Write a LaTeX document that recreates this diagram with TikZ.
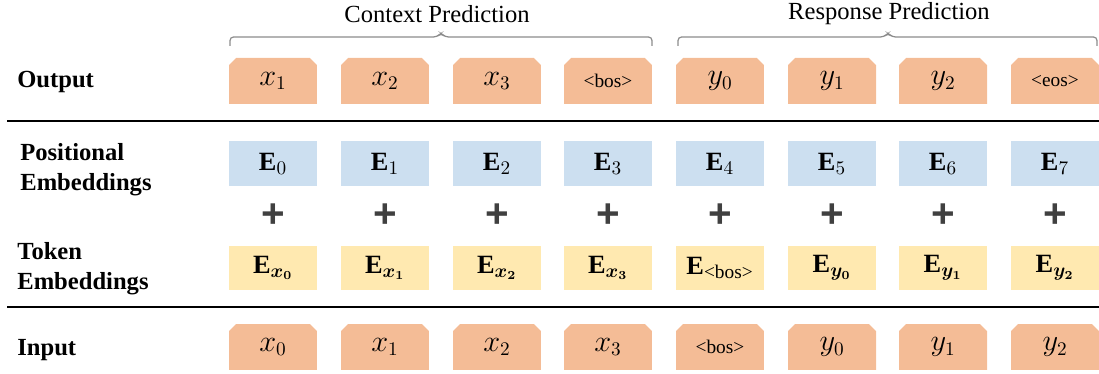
\documentclass[tikz,border=0pt]{standalone}
\usepackage{amsmath,bm}
\usepackage{fontspec}
\setmainfont{Liberation Serif}
\newfontfamily\plusfont{Liberation Sans}

\definecolor{tokorange}{HTML}{F4BC96}
\definecolor{posblue}{HTML}{CCDFF0}
\definecolor{tokyellow}{HTML}{FFE9B0}

\begin{document}
\begin{tikzpicture}[x=0.02cm, y=-0.02cm,
  rowlabel/.style={anchor=west, align=left, inner sep=0pt,
                   font=\fontsize{14}{17}\selectfont\bfseries},
  headlabel/.style={inner sep=0pt, font=\fontsize{14}{17}\selectfont},
  wordbox/.style={rectangle, minimum width=1.76cm, minimum height=0.92cm, inner sep=0pt,
                  font=\fontsize{16}{18}\selectfont,
                  path picture={\fill[tokorange] (path picture bounding box.south west)
                    -- ([yshift=-4pt]path picture bounding box.north west)
                    -- ([xshift=4pt]path picture bounding box.north west)
                    -- ([xshift=-4pt]path picture bounding box.north east)
                    -- ([yshift=-4pt]path picture bounding box.north east)
                    -- (path picture bounding box.south east) -- cycle;}},
  posbox/.style={fill=posblue, minimum width=1.76cm, minimum height=0.9cm, inner sep=0pt,
                 font=\fontsize{15}{17}\selectfont},
  embbox/.style={fill=tokyellow, minimum width=1.76cm, minimum height=0.88cm, inner sep=0pt,
                 font=\fontsize{15}{17}\selectfont},
  plussign/.style={inner sep=0pt, text=black!75, font=\plusfont\fontsize{23}{23}\selectfont\bfseries},
  brace/.style={draw=black!45, line width=0.7pt, rounded corners=2pt},
  rule/.style={line width=1.7pt},
]
  \useasboundingbox (0,0) rectangle (1099,374);

  % Row labels
  \node[rowlabel] (lout) at (17,82) {Output};
  \node[rowlabel] (lpos) at (20,170) {Positional\\Embeddings};
  \node[rowlabel] (ltok) at (17,269) {Token\\Embeddings};
  \node[rowlabel] (lin) at (17,350) {Input};

  % Output row
  \foreach \i/\x/\lab in {1/273/{$x_1$}, 2/385/{$x_2$}, 3/497/{$x_3$},
                          4/608/{\fontsize{11}{12}\selectfont<bos>}, 5/720/{$y_0$},
                          6/832/{$y_1$}, 7/943/{$y_2$}, 8/1055/{\fontsize{11}{12}\selectfont<eos>}}
    \node[wordbox] (out\i) at (\x,81) {\lab};

  % Positional embeddings
  \foreach \i/\x in {1/273, 2/385, 3/497, 4/608, 5/720, 6/832, 7/943, 8/1055} {
    \pgfmathtruncatemacro{\k}{\i-1}
    \node[posbox] (pos\i) at (\x,164) {$\mathbf{E}_{\k}$};
    \node[plussign] (plus\i) at (\x,216) {+};
  }

  % Token embeddings
  \foreach \i/\x/\lab in {1/273/{x_0}, 2/385/{x_1}, 3/497/{x_2}, 4/608/{x_3},
                          5/720/{\text{\fontsize{11}{12}\selectfont<bos>}}, 6/832/{y_0},
                          7/943/{y_1}, 8/1055/{y_2}}
    \node[embbox] (tok\i) at (\x,268) {$\mathbf{E}_{\boldsymbol{\lab}}$};

  % Input row
  \foreach \i/\x/\lab in {1/273/{$x_0$}, 2/385/{$x_1$}, 3/497/{$x_2$}, 4/608/{$x_3$},
                          5/720/{\fontsize{11}{12}\selectfont<bos>}, 6/832/{$y_0$},
                          7/943/{$y_1$}, 8/1055/{$y_2$}}
    \node[wordbox] (in\i) at (\x,347) {\lab};

  % Separating rules
  \draw[rule] (7,121) -- (1099,121);
  \draw[rule] (7,307) -- (1099,307);

  % Braces and headings
  \draw[brace] (230,46) -- (230,37) -- (437,37) -- (441,33) -- (445,37) -- (652,37) -- (652,46);
  \draw[brace] (678,46) -- (678,37) -- (884,37) -- (888,33) -- (892,37) -- (1097,37) -- (1097,46);
  \node[headlabel] (ctx) at (437,14) {Context Prediction};
  \node[headlabel] (rsp) at (889,14) {Response Prediction};
\end{tikzpicture}
\end{document}
